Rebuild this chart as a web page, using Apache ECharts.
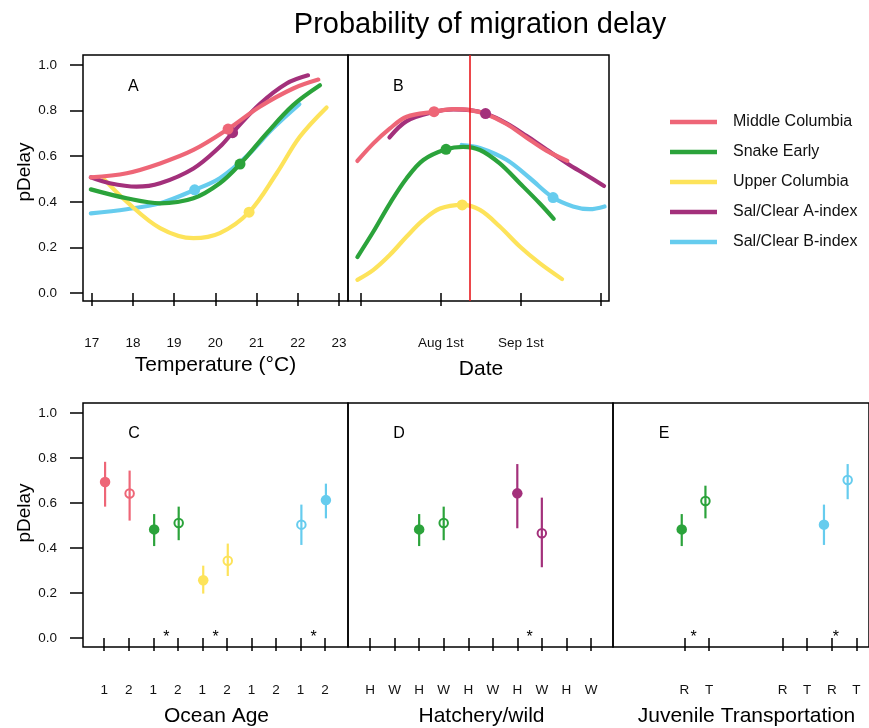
<!DOCTYPE html>
<html><head><meta charset="utf-8">
<script src="https://cdn.jsdelivr.net/npm/echarts@6/dist/echarts.min.js"></script>
<style>html,body{margin:0;padding:0;background:#fff}#c{width:869px;height:728px}</style>
</head><body><div id="c"></div>
<script>
// ---------- data ----------
const popNames = ['Middle Columbia', 'Snake Early', 'Upper Columbia', 'Sal/Clear A-index', 'Sal/Clear B-index'];

// Panel A: pDelay vs temperature (°C)
const tempMidCol = [[16.98,0.508],[17.85,0.526],[18.66,0.569],[19.47,0.628],[20.31,0.72],[21.08,0.818],[21.89,0.898],[22.5,0.937]];
const tempSnake  = [[16.98,0.455],[17.85,0.416],[18.66,0.394],[19.47,0.416],[20.11,0.482],[20.6,0.566],[21.24,0.70],[21.89,0.825],[22.54,0.912]];
const tempUpper  = [[17.3,0.50],[17.85,0.401],[18.66,0.285],[19.47,0.241],[20.11,0.263],[20.82,0.355],[21.49,0.526],[22.05,0.686],[22.7,0.815]];
const tempSalA   = [[16.98,0.508],[17.44,0.482],[18.09,0.467],[18.66,0.482],[19.47,0.547],[20.11,0.642],[20.42,0.704],[21.08,0.83],[21.73,0.92],[22.25,0.956]];
const tempSalB   = [[16.98,0.35],[17.85,0.368],[18.66,0.394],[19.5,0.453],[20.11,0.504],[20.76,0.60],[21.4,0.723],[22.04,0.829]];
const tempDotT = [20.31, 20.6, 20.82, 20.42, 19.5];
const tempDotP = [0.72, 0.566, 0.355, 0.704, 0.453];
const tempTicks = [17, 18, 19, 20, 21, 22, 23];

// Panel B: pDelay vs date (days since Jul 1st)
const dayMidCol = [[-1.3,0.58],[4.85,0.657],[11.2,0.723],[17.6,0.774],[28.1,0.796],[35.5,0.807],[41.9,0.803],[48.2,0.785],[55.9,0.742],[63.5,0.683],[71.2,0.625],[79.2,0.58]];
const daySnake  = [[-1.3,0.158],[4.85,0.27],[11.2,0.394],[17.6,0.504],[24,0.584],[32.7,0.631],[39.3,0.642],[45.7,0.628],[53.3,0.569],[61,0.482],[68.6,0.394],[74,0.326]];
const dayUpper  = [[-1.3,0.058],[4.85,0.102],[11.2,0.168],[17.6,0.248],[24,0.321],[30.4,0.371],[38.9,0.387],[45.7,0.365],[53.3,0.292],[61,0.204],[68.6,0.131],[77.2,0.061]];
const daySalA   = [[11,0.683],[17.6,0.755],[28,0.795],[35.5,0.806],[41.9,0.803],[47.85,0.788],[55.9,0.745],[63.5,0.69],[71.2,0.63],[79.2,0.569],[86.5,0.518],[93.3,0.47]];
const daySalB   = [[38.7,0.65],[45.7,0.637],[55.9,0.585],[64.8,0.505],[73.75,0.419],[81.4,0.38],[87.8,0.368],[93.5,0.38]];
const dayDotD = [28.1, 32.7, 38.9, 47.85, 73.75];
const dayDotP = [0.796, 0.631, 0.387, 0.788, 0.419];
const redLineDay = 41.9;
const dateTickLabels = ['', 'Aug 1st', 'Sep 1st', ''];

// Panel C: ocean age
const oceanPos  = [1, 2, 3, 4, 5, 6, 9, 10];
const oceanEst  = [0.692, 0.641, 0.482, 0.510, 0.256, 0.343, 0.503, 0.612];
const oceanLo   = [0.583, 0.521, 0.408, 0.434, 0.197, 0.275, 0.413, 0.531];
const oceanHi   = [0.782, 0.743, 0.550, 0.583, 0.321, 0.419, 0.592, 0.685];
const oceanFill = [1, 0, 1, 0, 1, 0, 0, 1];
const oceanPop  = [0, 0, 1, 1, 2, 2, 4, 4];
const oceanStars = [3.5, 5.5, 9.5];
const oceanLabels = ['1','2','1','2','1','2','1','2','1','2'];

// Panel D: hatchery / wild
const hatchPos  = [3, 4, 7, 8];
const hatchEst  = [0.482, 0.510, 0.642, 0.465];
const hatchLo   = [0.408, 0.434, 0.487, 0.314];
const hatchHi   = [0.550, 0.583, 0.772, 0.623];
const hatchFill = [1, 0, 1, 0];
const hatchPop  = [1, 1, 3, 3];
const hatchStars = [7.5];
const hatchLabels = ['H','W','H','W','H','W','H','W','H','W'];

// Panel E: juvenile transportation
const transPos  = [3, 4, 9, 10];
const transEst  = [0.482, 0.608, 0.503, 0.701];
const transLo   = [0.408, 0.531, 0.413, 0.616];
const transHi   = [0.550, 0.676, 0.592, 0.772];
const transFill = [1, 0, 1, 0];
const transPop  = [1, 1, 4, 4];
const transStars = [3.5, 9.5];
const transLabels = ['', '', 'R','T','','','R','T','R','T'];

const starY = 0.02;

// ---------- style ----------
const popColors = ['#EE6677', '#2BA33B', '#FDE35A', '#A3307B', '#66CCEE'];
const drawOrder = [4, 2, 1, 3, 0];
const FONT = 'Liberation Sans, Arial, sans-serif';

const chart = echarts.init(document.getElementById('c'), null, {renderer: 'canvas'});

// grids: 0 A, 1 B, 2 C, 3 D, 4 E (boxes);  5 A ticks, 6 B ticks, 7 C ticks, 8 D ticks, 9 E ticks
const boxStyle = {show: true, borderColor: '#000', borderWidth: 1.5, backgroundColor: 'transparent'};
const grids = [
  Object.assign({left: 83, top: 55, width: 265, height: 246}, boxStyle),
  Object.assign({left: 348, top: 55, width: 261, height: 246}, boxStyle),
  Object.assign({left: 83, top: 403, width: 265, height: 244}, boxStyle),
  Object.assign({left: 348, top: 403, width: 265, height: 244}, boxStyle),
  Object.assign({left: 613, top: 403, width: 265, height: 244}, boxStyle),
  {left: 91.7, top: 65, width: 247.2, height: 228, show: false},
  {left: 360.7, top: 65, width: 240.3, height: 228, show: false},
  {left: 104.2, top: 413, width: 220.9, height: 225, show: false},
  {left: 370.1, top: 413, width: 220.9, height: 225, show: false},
  {left: 635.4, top: 413, width: 220.9, height: 225, show: false}
];

const hidden = {axisLine: {show: false}, axisTick: {show: false}, axisLabel: {show: false}, splitLine: {show: false}};
const tickStyle = {show: true, length: 13, lineStyle: {color: '#000', width: 1.5}};
const labStyle = {color: '#111', fontSize: 13.5, fontFamily: FONT};

const xAxes = [
  Object.assign({type: 'value', gridIndex: 0, min: 16.79, max: 23.22}, hidden),
  Object.assign({type: 'value', gridIndex: 1, min: -4.9, max: 95.2}, hidden),
  Object.assign({type: 'value', gridIndex: 2, min: 0.1, max: 10.9}, hidden),
  Object.assign({type: 'value', gridIndex: 3, min: 0.1, max: 10.9}, hidden),
  Object.assign({type: 'value', gridIndex: 4, min: 0.1, max: 10.9}, hidden),
  {type: 'value', gridIndex: 5, min: tempTicks[0], max: tempTicks[tempTicks.length-1], interval: 1, position: 'bottom', offset: 10.5,
   axisLine: {show: false}, axisTick: tickStyle, splitLine: {show: false},
   axisLabel: Object.assign({margin: 33, formatter: v => String(v)}, labStyle)},
  {type: 'value', gridIndex: 6, min: 0, max: dateTickLabels.length - 1, interval: 1, position: 'bottom', offset: 10.5,
   axisLine: {show: false}, axisTick: tickStyle, splitLine: {show: false},
   axisLabel: Object.assign({margin: 33, formatter: v => dateTickLabels[Math.round(v)]}, labStyle)},
  {type: 'category', gridIndex: 7, data: oceanLabels, boundaryGap: false, position: 'bottom', offset: 9,
   axisLine: {show: false}, axisTick: Object.assign({interval: 0}, tickStyle), splitLine: {show: false},
   axisLabel: Object.assign({margin: 36, interval: 0}, labStyle)},
  {type: 'category', gridIndex: 8, data: hatchLabels, boundaryGap: false, position: 'bottom', offset: 9,
   axisLine: {show: false}, axisTick: Object.assign({interval: 0}, tickStyle), splitLine: {show: false},
   axisLabel: Object.assign({margin: 36, interval: 0}, labStyle)},
  {type: 'category', gridIndex: 9, data: transLabels, boundaryGap: false, position: 'bottom', offset: 9,
   axisLine: {show: false}, axisTick: Object.assign({interval: (i, v) => transLabels[i] !== ''}, tickStyle), splitLine: {show: false},
   axisLabel: Object.assign({margin: 36, interval: (i, v) => transLabels[i] !== ''}, labStyle)}
];

const yAxes = [
  Object.assign({type: 'value', gridIndex: 0, min: -0.035, max: 1.045}, hidden),
  Object.assign({type: 'value', gridIndex: 1, min: -0.035, max: 1.045}, hidden),
  Object.assign({type: 'value', gridIndex: 2, min: -0.04, max: 1.043}, hidden),
  Object.assign({type: 'value', gridIndex: 3, min: -0.04, max: 1.043}, hidden),
  Object.assign({type: 'value', gridIndex: 4, min: -0.04, max: 1.043}, hidden),
  {type: 'value', gridIndex: 5, min: 0, max: 1, interval: 0.2, position: 'left', offset: 8.7,
   axisLine: {show: false}, axisTick: tickStyle, splitLine: {show: false},
   axisLabel: Object.assign({margin: 26, formatter: v => v.toFixed(1)}, labStyle)},
  Object.assign({type: 'value', gridIndex: 6, min: 0, max: 1}, hidden),
  {type: 'value', gridIndex: 7, min: 0, max: 1, interval: 0.2, position: 'left', offset: 21.2,
   axisLine: {show: false}, axisTick: tickStyle, splitLine: {show: false},
   axisLabel: Object.assign({margin: 26, formatter: v => v.toFixed(1)}, labStyle)},
  Object.assign({type: 'value', gridIndex: 8, min: 0, max: 1}, hidden),
  Object.assign({type: 'value', gridIndex: 9, min: 0, max: 1}, hidden)
];

const series = [];
const tempLines = [tempMidCol, tempSnake, tempUpper, tempSalA, tempSalB];
const dayLines = [dayMidCol, daySnake, dayUpper, daySalA, daySalB];

function lineSeries(k, data, gi) {
  return {type: 'line', name: popNames[k], xAxisIndex: gi, yAxisIndex: gi, data: data,
    smooth: 0.35, showSymbol: false, symbol: 'none', clip: false,
    lineStyle: {color: popColors[k], width: 4.2, cap: 'round', join: 'round'},
    itemStyle: {color: popColors[k]}, z: 3};
}
drawOrder.forEach(k => series.push(lineSeries(k, tempLines[k], 0)));
drawOrder.forEach(k => series.push(lineSeries(k, dayLines[k], 1)));

// dots on curves
function dotSeries(xs, ys, gi) {
  return {type: 'scatter', xAxisIndex: gi, yAxisIndex: gi, symbolSize: 11, z: 4,
    data: drawOrder.map(k => ({value: [xs[k], ys[k]], itemStyle: {color: popColors[k], opacity: 1}}))};
}
series.push(dotSeries(tempDotT, tempDotP, 0));
series.push(dotSeries(dayDotD, dayDotP, 1));

// red reference line in B
series.push({type: 'line', xAxisIndex: 1, yAxisIndex: 1, data: [], z: 5,
  markLine: {silent: true, symbol: 'none', animation: false, label: {show: false},
    lineStyle: {color: '#E8191E', width: 1.6, type: 'solid'}, data: [{xAxis: redLineDay}]}});

// error bars / points / stars for C, D, E
function panelSeries(gi, pos, est, lo, hi, fill, pop, stars) {
  series.push({type: 'custom', xAxisIndex: gi, yAxisIndex: gi, z: 3,
    data: pos.map((p, i) => [p, lo[i], hi[i], pop[i]]),
    renderItem: (params, api) => {
      const a = api.coord([api.value(0), api.value(1)]);
      const b = api.coord([api.value(0), api.value(2)]);
      return {type: 'line', shape: {x1: a[0], y1: a[1], x2: b[0], y2: b[1]},
        style: {stroke: popColors[api.value(3)], lineWidth: 2.2}};
    }});
  series.push({type: 'scatter', xAxisIndex: gi, yAxisIndex: gi, z: 4,
    data: pos.map((p, i) => fill[i]
      ? {value: [p, est[i]], symbolSize: 10.5, itemStyle: {color: popColors[pop[i]], opacity: 1}}
      : {value: [p, est[i]], symbolSize: 8.5, itemStyle: {color: 'rgba(255,255,255,0)', borderColor: popColors[pop[i]], borderWidth: 2, opacity: 1}})});
  series.push({type: 'custom', xAxisIndex: gi, yAxisIndex: gi, z: 4,
    data: stars.map(s => [s, starY]),
    renderItem: (params, api) => {
      const c = api.coord([api.value(0), api.value(1)]);
      return {type: 'text', x: c[0], y: c[1] + 4,
        style: {text: '*', fill: '#000', font: '16px ' + FONT, textAlign: 'center', textVerticalAlign: 'middle'}};
    }});
}
panelSeries(2, oceanPos, oceanEst, oceanLo, oceanHi, oceanFill, oceanPop, oceanStars);
panelSeries(3, hatchPos, hatchEst, hatchLo, hatchHi, hatchFill, hatchPop, hatchStars);
panelSeries(4, transPos, transEst, transLo, transHi, transFill, transPop, transStars);

function txt(text, x, y, size, extra) {
  return Object.assign({type: 'text', x: x, y: y, silent: true,
    style: {text: text, fill: '#000', font: size + 'px ' + FONT, textAlign: 'center', textVerticalAlign: 'middle'}}, extra || {});
}

const option = {
  animation: false,
  backgroundColor: '#fff',
  grid: grids,
  xAxis: xAxes,
  yAxis: yAxes,
  legend: {
    data: popNames.map(n => ({name: n, icon: 'rect'})),
    orient: 'vertical', left: 665, top: 108, itemWidth: 47, itemHeight: 4.5, itemGap: 12,
    selectedMode: false,
    textStyle: {fontSize: 16, fontFamily: FONT, color: '#111', lineHeight: 18, padding: [0, 0, 0, 11]}
  },
  graphic: [
    txt('Probability of migration delay', 480, 25, 29),
    txt('A', 133.3, 87, 16), txt('B', 398.3, 87, 16),
    txt('C', 134, 433.5, 16), txt('D', 399, 433.5, 16), txt('E', 664, 433.5, 16),
    txt('Temperature (°C)', 215.5, 365, 21),
    txt('Date', 481, 369, 21),
    txt('Ocean Age', 216.5, 716, 21),
    txt('Hatchery/wild', 481.5, 716, 21),
    txt('Juvenile Transportation', 746.5, 716, 21),
    txt('pDelay', 25, 172, 19, {rotation: Math.PI / 2}),
    txt('pDelay', 25, 513, 19, {rotation: Math.PI / 2})
  ],
  series: series
};
chart.setOption(option);
</script>
</body></html>
